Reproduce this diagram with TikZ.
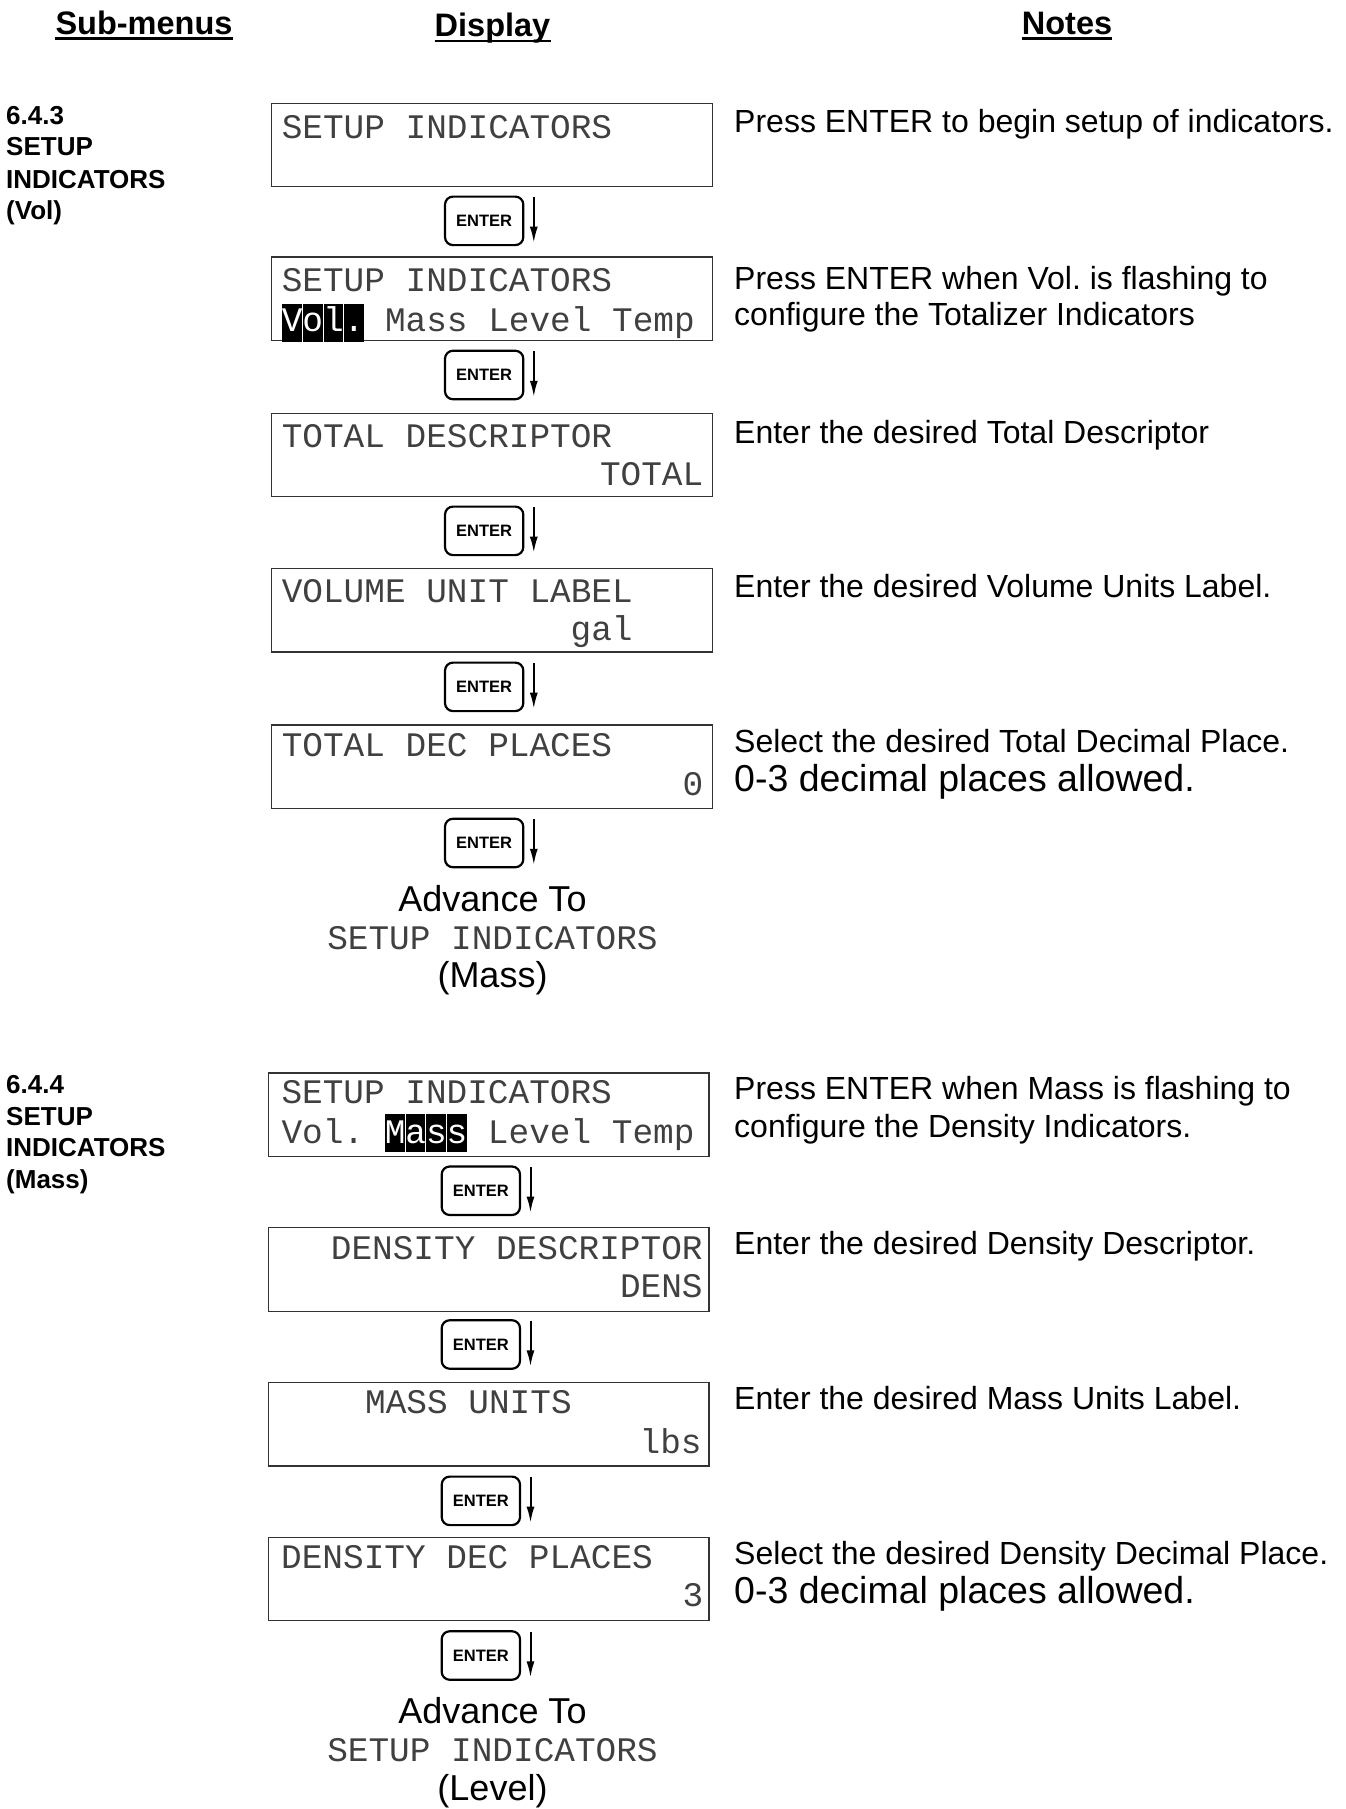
\documentclass[tikz,border=0pt]{standalone}
\usepackage{fontspec}
\setmainfont{Liberation Sans}
\newfontfamily\lcdfont{Liberation Mono}
\usetikzlibrary{arrows.meta}
\tikzset{
 lcdbox/.style={draw=black!80, line width=1.3pt, minimum width=440.6pt, minimum height=83.5pt, inner sep=0pt},
 lcd/.style={inner sep=0pt, font={\lcdfont\fontsize{34.41}{40}\selectfont}, text=black!75},
 hl/.style={fill=black},
 hlsep/.style={draw=white, line width=0.8pt},
 key/.style={draw, line width=2.2pt, rounded corners=8pt, minimum width=78.3pt, minimum height=48.5pt, inner sep=0pt, font={\bfseries\fontsize{16.5}{18}\selectfont}},
 flow/.style={line width=2pt, -{Latex[length=16pt,width=8pt]}},
 note/.style={inner sep=0pt, anchor=base west, font={\fontsize{32}{36.5}\selectfont}},
 bignote/.style={note, font={\fontsize{37.5}{42}\selectfont}},
 head/.style={inner sep=0pt, anchor=base, font={\bfseries\fontsize{32.5}{38}\selectfont}},
 headline/.style={line width=2.4pt},
 sect/.style={inner sep=0pt, anchor=base west, font={\bfseries\fontsize{26}{31.5}\selectfont}},
 adv/.style={inner sep=0pt, anchor=base, font={\fontsize{36}{40}\selectfont}},
}
\begin{document}
\frenchspacing
\begin{tikzpicture}[x=1pt,y=-1pt]
\useasboundingbox (0,0) rectangle (1345,1809);
% headers
\node[head] (h1) at (144,34.5) {Sub-menus};
\node[head] (h2) at (492.5,37) {Display};
\node[head] (h3) at (1067,34.5) {Notes};
\foreach \h in {h1,h2,h3}
  \draw[headline] ([yshift=-4pt]\h.base west) -- ([yshift=-4pt]\h.base east);
% section labels
\node[sect] (s1a) at (6,124.5) {6.4.3};
\node[sect] (s1b) at (6,156) {SETUP};
\node[sect] (s1c) at (6,188) {INDICATORS};
\node[sect] (s1d) at (6,219.5) {(Vol)};
\node[sect] (s2a) at (6,1093.5) {6.4.4};
\node[sect] (s2b) at (6,1125) {SETUP};
\node[sect] (s2c) at (6,1156.5) {INDICATORS};
\node[sect] (s2d) at (6,1188) {(Mass)};
% display boxes
\node[lcdbox] (b1) at (492,145) {};
\node[lcdbox] (b2) at (492,298.7) {};
\node[lcdbox] (b3) at (492,455) {};
\node[lcdbox] (b4) at (492,610.15) {};
\node[lcdbox] (b5) at (492,766.65) {};
\node[lcdbox] (b6) at (488.8,1114.75) {};
\node[lcdbox] (b7) at (488.8,1269.5) {};
\node[lcdbox] (b8) at (488.8,1424.2) {};
\node[lcdbox] (b9) at (488.8,1579) {};
% highlights
\fill[hl] (281.7,304) rectangle (364.3,342);
\foreach \x in {302.35,323,343.65} \draw[hlsep] (\x,304) -- (\x,342);
\fill[hl] (384.55,1114) rectangle (467.15,1152);
\foreach \x in {405.2,425.85,446.5} \draw[hlsep] (\x,1114) -- (\x,1152);
% display texts
\node[lcd,anchor=base west] (t1) at (281.6,138.3) {SETUP INDICATORS};
\node[lcd,anchor=base west] (t2a) at (281.6,291.7) {SETUP INDICATORS};
\node[lcd,anchor=base west] (t2b) at (281.6,331.7) {\textcolor{white}{Vol.} Mass Level Temp};
\node[lcd,anchor=base west] (t3a) at (281.6,447.3) {TOTAL DESCRIPTOR};
\node[lcd,anchor=base east] (t3b) at (703.5,485.7) {TOTAL};
\node[lcd,anchor=base west] (t4a) at (281.6,602) {VOLUME UNIT LABEL};
\node[lcd,anchor=base east] (t4b) at (632.8,640) {gal};
\node[lcd,anchor=base west] (t5a) at (281.6,756.7) {TOTAL DEC PLACES};
\node[lcd,anchor=base east] (t5b) at (703.5,795) {0};
\node[lcd,anchor=base west] (t6a) at (281.3,1103) {SETUP INDICATORS};
\node[lcd,anchor=base west] (t6b) at (281.3,1143) {Vol. \textcolor{white}{Mass} Level Temp};
\node[lcd,anchor=base east] (t7a) at (702.8,1259.5) {DENSITY DESCRIPTOR};
\node[lcd,anchor=base east] (t7b) at (702.8,1297.5) {DENS};
\node[lcd,anchor=base west] (t8a) at (365,1413.3) {MASS UNITS};
\node[lcd,anchor=base east] (t8b) at (701.8,1453.3) {lbs};
\node[lcd,anchor=base west] (t9a) at (281,1568.3) {DENSITY DEC PLACES};
\node[lcd,anchor=base east] (t9b) at (703.5,1606.7) {3};
% ENTER keys
\node[key] (k1) at (484.15,220.85) {ENTER};
\node[key] (k2) at (484.15,375) {ENTER};
\node[key] (k3) at (484.15,530.85) {ENTER};
\node[key] (k4) at (484.15,686.85) {ENTER};
\node[key] (k5) at (484.15,843) {ENTER};
\node[key] (k6) at (480.85,1190.75) {ENTER};
\node[key] (k7) at (480.85,1344.5) {ENTER};
\node[key] (k8) at (480.85,1500.85) {ENTER};
\node[key] (k9) at (480.85,1655.5) {ENTER};
\foreach \k in {k1,k2,k3,k4,k5,k6,k7,k8,k9}
  \draw[flow] ([xshift=9.4pt,yshift=-1.5pt]\k.north east) -- ([xshift=9.4pt,yshift=3.5pt]\k.south east);
% advance blocks
\node[adv] (a1) at (492.5,911.7) {Advance To};
\node[lcd,anchor=base] (a2) at (492.5,949.3) {SETUP INDICATORS};
\node[adv] (a3) at (492.5,987) {(Mass)};
\node[adv] (c1) at (492.5,1723.3) {Advance To};
\node[lcd,anchor=base] (c2) at (492.5,1761.7) {SETUP INDICATORS};
\node[adv] (c3) at (492.5,1800) {(Level)};
% notes
\node[note] (n1) at (734,132) {Press ENTER to begin setup of indicators.};
\node[note] (n2a) at (734,289) {Press ENTER when Vol. is flashing to};
\node[note] (n2b) at (734,325.5) {configure the Totalizer Indicators};
\node[note] (n3) at (734,443) {Enter the desired Total Descriptor};
\node[note] (n4) at (734,597) {Enter the desired Volume Units Label.};
\node[note] (n5a) at (734,752) {Select the desired Total Decimal Place.};
\node[bignote] (n5b) at (734,791) {0-3 decimal places allowed.};
\node[note] (n6a) at (734,1099) {Press ENTER when Mass is flashing to};
\node[note] (n6b) at (734,1137) {configure the Density Indicators.};
\node[note] (n7) at (734,1254) {Enter the desired Density Descriptor.};
\node[note] (n8) at (734,1409) {Enter the desired Mass Units Label.};
\node[note] (n9a) at (734,1564) {Select the desired Density Decimal Place.};
\node[bignote] (n9b) at (734,1603) {0-3 decimal places allowed.};
\end{tikzpicture}
\end{document}
